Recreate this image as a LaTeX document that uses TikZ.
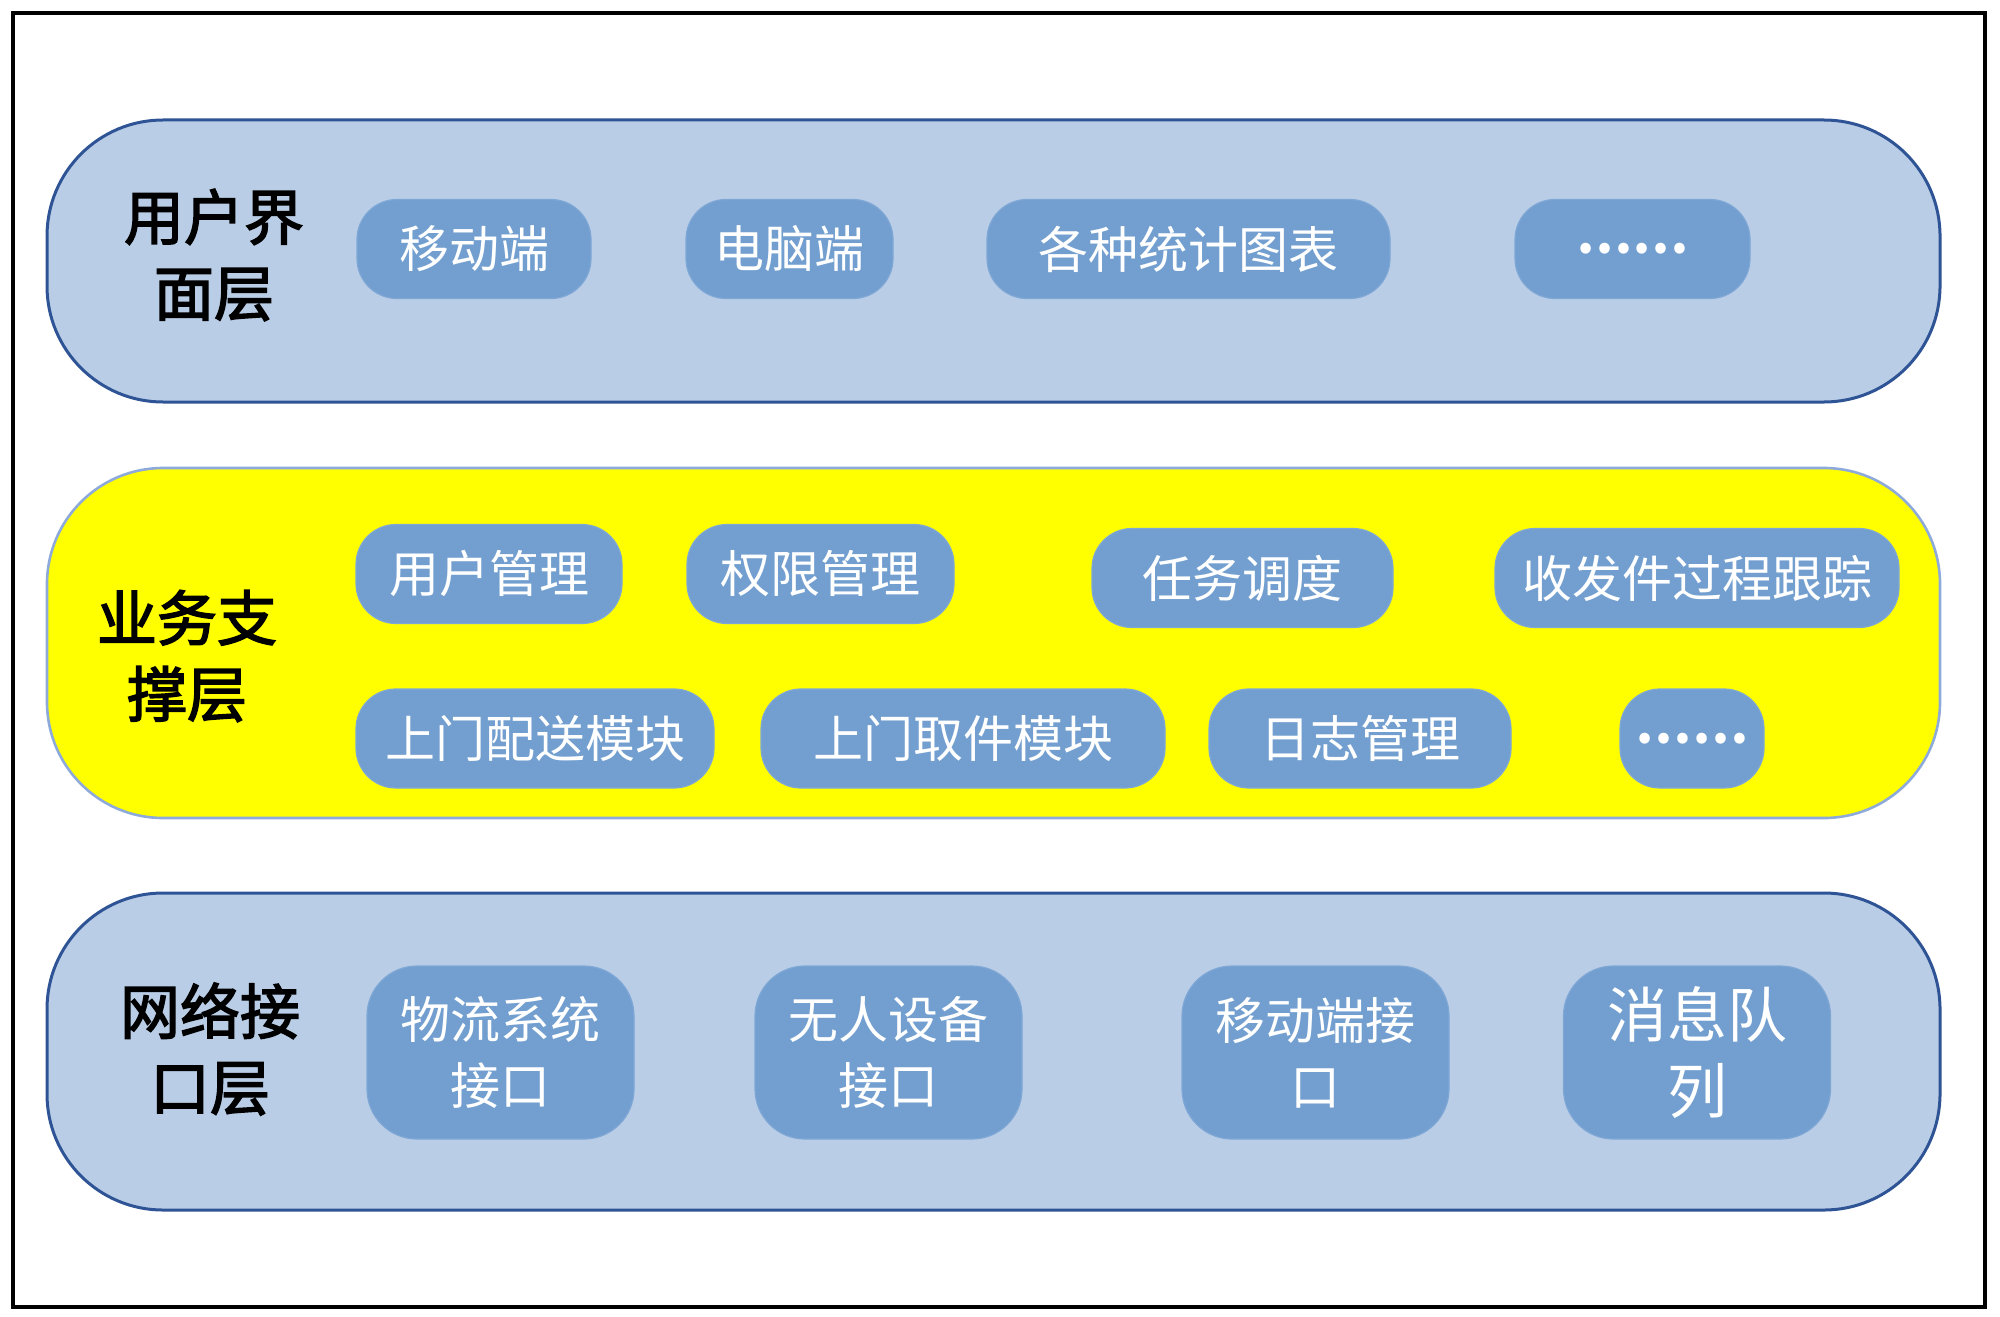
\documentclass[tikz,border=0pt]{standalone}
\usepackage{fontspec}
\setmainfont{Noto Sans CJK SC}
\newfontfamily\lblfont[FakeBold=2.5]{Noto Sans CJK SC}
\definecolor{layerfill}{HTML}{B9CDE6}
\definecolor{layerline}{HTML}{2F5496}
\definecolor{midline}{HTML}{8EAADB}
\definecolor{midfill}{RGB}{255,255,0}
\definecolor{itemfill}{HTML}{729FCF}
\definecolor{itemline}{HTML}{7FA7D6}
\begin{document}
\begin{tikzpicture}[x=0.5pt,y=-0.5pt,
  layer/.style={draw=layerline, line width=1.5pt, fill=layerfill, rounded corners=58pt, inner sep=0pt, minimum width=946.5pt},
  midlayer/.style={layer, draw=midline, fill=midfill, line width=1.3pt},
  item/.style={fill=itemfill, draw=itemline, line width=0.6pt, rounded corners=20pt, text=white,
    font=\fontsize{25}{30}\selectfont, inner sep=0pt, align=center, minimum height=49.5pt},
  tall/.style={item, rounded corners=25pt, minimum height=86.5pt, font=\fontsize{25}{33}\selectfont},
  dots/.style={item, font=\fontsize{25}{30}\selectfont\bfseries},
  lbl/.style={font=\lblfont\fontsize{30}{38}\selectfont, align=center, inner sep=0pt}]
\useasboundingbox (0,0) rectangle (2000,1316);
\node[draw=black, line width=1.6pt, minimum width=986pt, minimum height=647pt, inner sep=0pt] (frame) at (999,660) {};
% layers
\node[layer, minimum height=141pt] (top) at (993.5,261) {};
\node[midlayer, minimum height=175pt] (mid) at (993.5,643) {};
\node[layer, minimum height=158.5pt] (bot) at (993.5,1051.5) {};
% labels
\node[lbl] (ltop) at (214,255) {用户界\\面层};
\node[lbl] (lmid) at (187,656) {业务支\\撑层};
\node[lbl] (lbot) at (210,1049) {网络接\\口层};
% top row
\node[item, minimum width=117pt] (t1) at (474,249) {移动端};
\node[item, minimum width=103.5pt] (t2) at (789.5,249) {电脑端};
\node[item, minimum width=201.5pt] (t3) at (1188.5,249) {各种统计图表};
\node[dots, minimum width=117.5pt] (t4) at (1632.5,249) {……};
% middle rows
\node[item, minimum width=133pt] (m1) at (489,574) {用户管理};
\node[item, minimum width=133.5pt] (m2) at (820.5,574) {权限管理};
\node[item, minimum width=150.5pt] (m3) at (1242.5,578) {任务调度};
\node[item, minimum width=202pt] (m4) at (1697,578) {收发件过程跟踪};
\node[item, minimum width=179pt] (m5) at (535,738.5) {上门配送模块};
\node[item, minimum width=202pt] (m6) at (963,738.5) {上门取件模块};
\node[item, minimum width=151pt] (m7) at (1360,738.5) {日志管理};
\node[dots, minimum width=72pt] (m8) at (1692,738.5) {……};
% bottom row
\node[tall, minimum width=133.5pt] (b1) at (500.5,1052.5) {物流系统\\接口};
\node[tall, minimum width=133.5pt] (b2) at (888.5,1052.5) {无人设备\\接口};
\node[tall, minimum width=133.5pt] (b3) at (1315.5,1052.5) {移动端接\\口};
\node[tall, minimum width=133.5pt, font=\fontsize{30}{38}\selectfont] (b4) at (1697,1052.5) {消息队\\列};
\end{tikzpicture}
\end{document}
